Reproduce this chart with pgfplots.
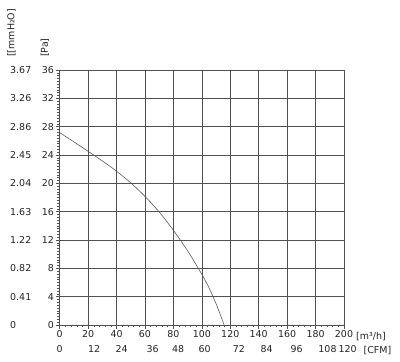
\documentclass[border=0pt]{standalone}
\usepackage{fontspec}
\setmainfont{DejaVu Sans}
\usepackage{pgfplots}
\pgfplotsset{compat=1.18}
\definecolor{gridc}{RGB}{80,80,80}
\definecolor{txt}{RGB}{35,35,35}
\newcommand{\tf}{\fontsize{9.5}{11}\selectfont}
\begin{document}
\begin{tikzpicture}[x=1bp,y=1bp]
\path[use as bounding box] (0,0) rectangle (400,362);
\begin{axis}[
  at={(59.7bp,37bp)}, anchor=south west,
  scale only axis, width=284.3bp, height=255bp,
  xmin=0, xmax=200, ymin=0, ymax=36,
  xtick={0,20,...,200}, ytick={0,4,...,36},
  minor x tick num=4, minor y tick num=9,
  xtick pos=bottom, ytick pos=left,
  tick align=outside,
  major tick length=4bp, minor tick length=2.5bp,
  grid=major, grid style={gridc, line width=0.6pt},
  axis line style={gridc, line width=0.6pt},
  tick style={gridc, line width=0.5pt},
  ticklabel style={font=\tf, text=txt},
  xticklabel style={inner sep=1.5pt},
  yticklabel style={inner sep=1.5pt},
  /pgf/number format/assume math mode=true,
  clip=false,
]
\addplot[black!65, line width=0.6pt, smooth] coordinates {
(0,27.15) (10,25.85) (20,24.52) (30,23.16) (40,21.71) (50,20.06) (60,18.16)
(70,15.96) (80,13.36) (90,10.46) (100,7.16) (105,5.26) (110,3.01) (115.7,0)};
\end{axis}
\begin{axis}[
  at={(59.7bp,37bp)}, anchor=south west,
  scale only axis, width=291.4bp, height=255bp,
  xmin=0, xmax=205, ymin=0, ymax=36,
  axis line style={draw=none}, major tick length=0pt, tick style={draw=none},
  xtick={0,24.2,43.6,65.3,83.3,102,126,145.6,166.7,188.4,202.5},
  xticklabels={0,12,24,36,48,60,72,84,96,108,120},
  xtick pos=bottom, ytick pos=left,
  xticklabel style={yshift=-18.5bp, inner sep=1.5pt},
  ytick={0,4,...,36},
  yticklabels={0,0.41,0.82,1.22,1.63,2.04,2.45,2.86,3.26,3.67},
  yticklabel style={anchor=west, xshift=-53bp},
  ticklabel style={font=\tf, text=txt},
  /pgf/number format/assume math mode=true,
]
\end{axis}
\node[rotate=90, anchor=west, inner sep=0pt, text=txt, font=\tf] at (11.5,305) {[[mmH₂O]};
\node[rotate=90, anchor=west, inner sep=0pt, text=txt, font=\tf] at (45,305) {[Pa]};
\node[anchor=base west, inner sep=0pt, text=txt, font=\tf] at (356,23) {[m³/h]};
\node[anchor=base west, inner sep=0pt, text=txt, font=\tf] at (363.5,9) {[CFM]};
\end{tikzpicture}
\end{document}
